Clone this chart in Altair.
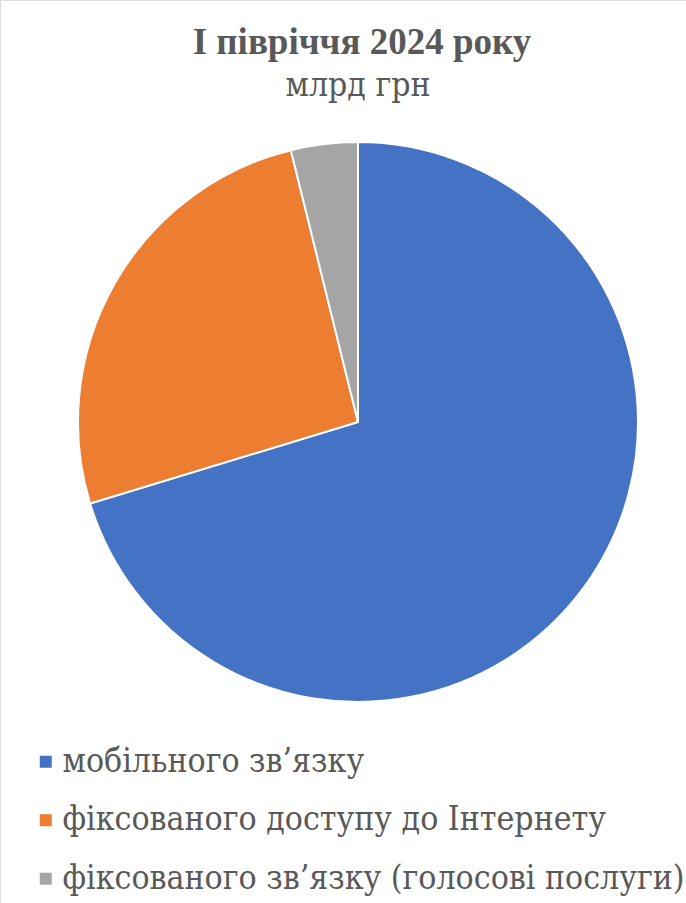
import altair as alt
import pandas as pd

categories = ["мобільного зв’язку", "фіксованого доступу до Інтернету", "фіксованого зв’язку (голосові послуги)"]
values = [31.0, 11.4, 1.7]
colors = ["#4472C4", "#ED7D31", "#A5A5A5"]
title_text = "І півріччя 2024 року"
subtitle_text = "млрд грн"

df = pd.DataFrame({"cat": categories, "val": values, "ord": list(range(len(values)))})

FONT = "Liberation Serif"
FONT_R = "DejaVu Serif Condensed"
GREY = "#595959"

arc = alt.Chart(df).mark_arc(radius=280, stroke="white", strokeWidth=2).encode(
    theta=alt.Theta("val:Q", stack=True),
    order=alt.Order("ord:Q"),
    color=alt.Color(
        "cat:N",
        scale=alt.Scale(domain=categories, range=colors),
        legend=alt.Legend(
            title=None, orient="none", legendX=29, legendY=745, padding=0,
            symbolType="square", symbolSize=144, symbolStrokeWidth=0, symbolOffset=0,
            labelFont=FONT_R, labelFontSize=33.5, labelColor=GREY,
            labelLimit=700, rowPadding=23.5, labelOffset=0,
        ),
    ),
    x=alt.value(358),
    y=alt.value(422),
)

tdf = pd.DataFrame({"t": [title_text], "s": [subtitle_text]})
title = alt.Chart(tdf).mark_text(font=FONT, fontSize=37, fontWeight="bold", color=GREY, baseline="alphabetic").encode(
    text="t:N", x=alt.value(362), y=alt.value(54)
)
subtitle = alt.Chart(tdf).mark_text(font=FONT_R, fontSize=33.5, fontWeight="normal", color=GREY, baseline="alphabetic").encode(
    text="s:N", x=alt.value(358), y=alt.value(96)
)

chart = alt.layer(arc, title, subtitle).properties(
    width=686, height=903, autosize=alt.AutoSizeParams(type="none"), padding=0
).configure_view(stroke=None).configure(background="white")

chart.save("out.html", embed_options={"renderer": "svg", "actions": False})
